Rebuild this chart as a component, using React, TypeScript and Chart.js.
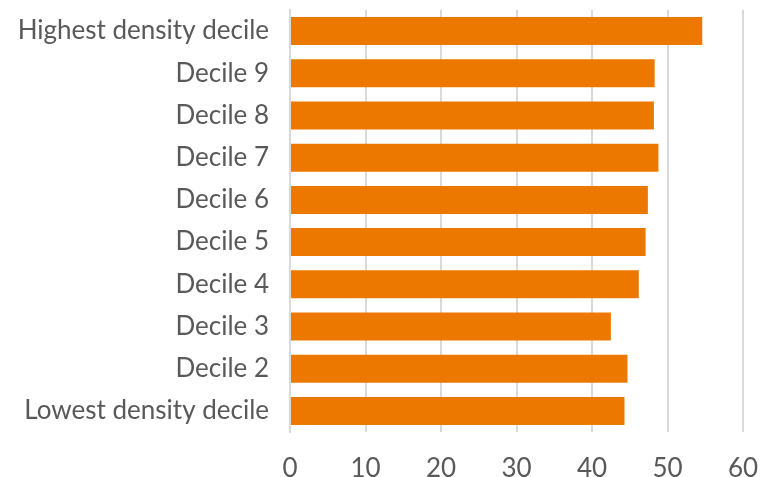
import React, { useEffect, useRef } from "react";
import { Chart, registerables } from "chart.js";

Chart.register(...registerables);

const categories = [
  "Highest density decile",
  "Decile 9",
  "Decile 8",
  "Decile 7",
  "Decile 6",
  "Decile 5",
  "Decile 4",
  "Decile 3",
  "Decile 2",
  "Lowest density decile",
];
const values = [54.6, 48.3, 48.2, 48.8, 47.4, 47.1, 46.2, 42.5, 44.7, 44.3];
const xTicks = [0, 10, 20, 30, 40, 50, 60];

const FONT = "Lato, 'Noto Sans', sans-serif";
const TEXT = "#595959";
const GRID = "#d9d9d9";

export default function App() {
  const ref = useRef<HTMLCanvasElement | null>(null);
  useEffect(() => {
    if (!ref.current) return;
    const chart = new Chart(ref.current, {
      type: "bar",
      data: {
        labels: categories,
        datasets: [
          {
            data: values,
            backgroundColor: "#ED7800",
            borderWidth: 0,
            categoryPercentage: 1,
            barPercentage: 0.663,
          },
        ],
      },
      options: {
        indexAxis: "y",
        animation: false,
        responsive: false,
        maintainAspectRatio: false,
        layout: { padding: { left: 0, right: 18, top: 10, bottom: 0 } },
        plugins: { legend: { display: false }, tooltip: { enabled: false } },
        scales: {
          x: {
            min: 0,
            max: 60,
            afterBuildTicks: (s: any) => {
              s.ticks = xTicks.map((v) => ({ value: v }));
            },
            grid: { color: GRID, lineWidth: 2, drawTicks: false },
            border: { display: false },
            ticks: {
              color: TEXT,
              font: { family: FONT, size: 26 },
              padding: 21,
              maxRotation: 0,
            },
            afterFit: (s: any) => {
              s.height = 45;
              s.paddingLeft = 0;
              s.paddingRight = 0;
            },
          },
          y: {
            grid: { display: false, drawTicks: false },
            border: { display: true, color: GRID, width: 2 },
            ticks: {
              color: TEXT,
              font: { family: FONT, size: 26 },
              padding: 21,
            },
            afterFit: (s: any) => {
              s.width = 290;
              s.paddingTop = 0;
              s.paddingBottom = 0;
            },
          },
        },
      },
    });
    return () => chart.destroy();
  }, []);
  return (
    <div style={{ position: "fixed", left: 0, top: 0, width: 761, height: 477, background: "#fff" }}>
      <canvas ref={ref} width={761} height={477} style={{ width: 761, height: 477 }} />
    </div>
  );
}
